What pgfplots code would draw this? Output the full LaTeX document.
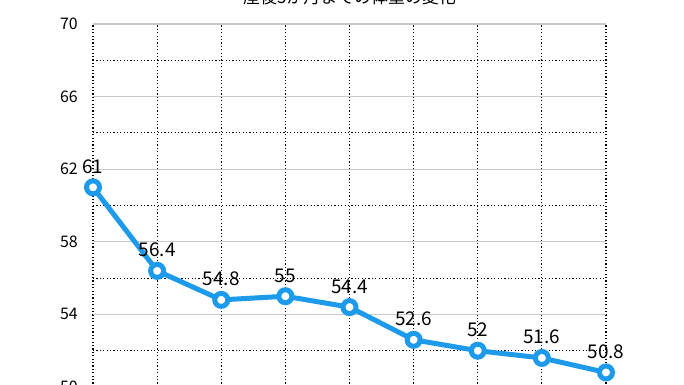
\documentclass[border=0pt]{standalone}
\usepackage{pgfplots}
\pgfplotsset{compat=1.18}
\usepackage{fontspec}
\setmainfont{Noto Sans CJK JP}
\definecolor{lineblue}{RGB}{29,155,234}
\definecolor{majgray}{RGB}{200,200,200}
\begin{document}
\begin{tikzpicture}
\useasboundingbox (-93bp,2bp) rectangle (591bp,387bp);
\clip (-93bp,2bp) rectangle (591bp,387bp);
\begin{axis}[
  at={(0,0)}, anchor=south west,
  scale only axis, width=513bp, height=363bp,
  xmin=0, xmax=8, ymin=50, ymax=70,
  xtick={0,...,8}, xticklabels={},
  ytick={50,54,...,70}, minor ytick={52,56,...,68},
  /pgf/number format/assume math mode=true,
  axis line style={draw=none},
  tick style={draw=none}, minor tick style={draw=none},
  xmajorgrids, ymajorgrids, yminorgrids,
  major x grid style={black, line width=1.1bp, dash pattern=on 1.1bp off 2.3bp},
  major y grid style={majgray, line width=1.1bp},
  minor y grid style={black, line width=1.1bp, dash pattern=on 1.1bp off 2.3bp},
  yticklabel style={font=\fontsize{16}{18}\selectfont, anchor=east, inner sep=0pt, xshift=-15bp},
  title={産後5か月までの体重の変化},
  title style={at={(rel axis cs:0.5,1)}, anchor=base, yshift=14.5bp, inner sep=0pt, font=\fontsize{17}{20}\selectfont},
  nodes near coords,
  every node near coord/.append style={font=\fontsize{19}{20}\selectfont, black, anchor=base, yshift=14bp, inner sep=0pt},
  clip=false,
]
\addplot[lineblue, line width=5bp, mark=*, mark size=6.5bp,
  mark options={fill=white, draw=lineblue, line width=5bp},
  point meta=explicit symbolic]
  coordinates {
  (0,61) [61]
  (1,56.4) [56.4]
  (2,54.8) [54.8]
  (3,55) [55]
  (4,54.4) [54.4]
  (5,52.6) [52.6]
  (6,52) [52]
  (7,51.6) [51.6]
  (8,50.8) [50.8]
  };
\end{axis}
\end{tikzpicture}
\end{document}
